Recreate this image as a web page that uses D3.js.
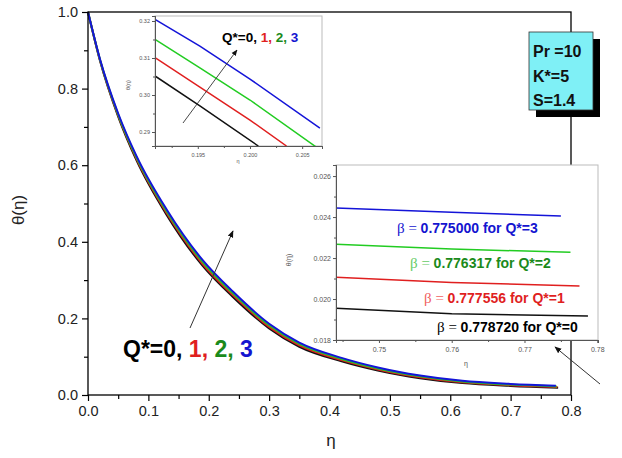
<!DOCTYPE html>
<html>
<head>
<meta charset="utf-8">
<script src="https://cdn.jsdelivr.net/npm/d3@7"></script>
<style>
  body { margin: 0; background: #fff; }
  text { font-family: Arial, "Liberation Sans", sans-serif; }
</style>
</head>
<body>
<div id="chart"></div>
<script>
// temperature profiles theta(eta) for Q* = 0..3, each curve ends at its beta
const qValues = [0, 1, 2, 3];
const betaValues = [0.778720, 0.777556, 0.776317, 0.775000];
const etaGrid = [0, 0.02, 0.05, 0.08, 0.13, 0.19, 0.24, 0.30, 0.35, 0.42, 0.48, 0.55, 0.62, 0.70];
const thetaQ0 = [1.0, 0.872, 0.727, 0.614, 0.471, 0.337, 0.256, 0.174, 0.126, 0.088, 0.064, 0.044, 0.031, 0.0238, 0.0192];
const thetaQ1 = [1.0, 0.8733, 0.7297, 0.6177, 0.4757, 0.342, 0.2607, 0.178, 0.1297, 0.091, 0.0667, 0.0463, 0.033, 0.0255, 0.0206];
const thetaQ2 = [1.0, 0.8747, 0.7323, 0.6213, 0.4803, 0.347, 0.2653, 0.182, 0.1333, 0.094, 0.0693, 0.0487, 0.035, 0.0272, 0.0223];
const thetaQ3 = [1.0, 0.876, 0.735, 0.625, 0.485, 0.352, 0.27, 0.186, 0.137, 0.097, 0.072, 0.051, 0.037, 0.029, 0.0241];

// zoom near eta = 0.2
const zoomAEta = [
  [0.1909, 0.1952, 0.2008],
  [0.1909, 0.1952, 0.2000, 0.2035],
  [0.1909, 0.1952, 0.2000, 0.2063],
  [0.1909, 0.1952, 0.2000, 0.2067]
];
const zoomATheta = [
  [0.30514, 0.29703, 0.28622],
  [0.31008, 0.30216, 0.29324, 0.28622],
  [0.31505, 0.30730, 0.29865, 0.28603],
  [0.32046, 0.31324, 0.30432, 0.29108]
];
const zoomAYTicks = [0.29, 0.30, 0.31, 0.32];
const zoomAXTicks = [0.195, 0.200, 0.205];

// zoom near the edge of the boundary layer
const zoomBEtaStart = [0.7441, 0.760];
const zoomBTheta = [
  [0.01955, 0.01928, 0.01917],
  [0.02106, 0.02081, 0.02063],
  [0.02267, 0.02244, 0.02228],
  [0.02444, 0.02423, 0.02405]
];
const zoomBYTicks = [0.018, 0.020, 0.022, 0.024, 0.026];
const zoomBXTicks = [0.75, 0.76, 0.77, 0.78];

const params = ["Pr =10", "K*=5", "S=1.4"];

const lineColors = ["#111111", "#e01f1f", "#22cc22", "#1414d8"];
const textColors = ["#000000", "#e01f1f", "#1b8a1b", "#1414d0"];
const betaSymColors = ["#000000", "#f06060", "#66cc66", "#1414d0"];

const svg = d3.select("#chart").append("svg")
  .attr("width", 622)
  .attr("height", 458);

const x = d3.scaleLinear().domain([0, 0.8]).range([88, 571]);
const y = d3.scaleLinear().domain([0, 1]).range([395, 12]);

const mainSeries = [thetaQ0, thetaQ1, thetaQ2, thetaQ3].map((vals, i) =>
  vals.map((v, j) => ({ eta: j < etaGrid.length ? etaGrid[j] : betaValues[i], theta: v }))
);

const line = d3.line().curve(d3.curveMonotoneX).x(d => x(d.eta)).y(d => y(d.theta));

mainSeries.forEach((s, i) => {
  svg.append("path").datum(s)
    .attr("d", line)
    .attr("fill", "none")
    .attr("stroke", lineColors[i])
    .attr("stroke-width", 2);
});

// axes: major + minor ticks, frame
function styleAxis(sel, size) {
  sel.selectAll(".domain").remove();
  sel.selectAll(".tick line").attr("stroke", "#000").attr("stroke-width", 1.2);
  sel.selectAll(".tick text").attr("font-size", size).attr("fill", "#222");
}

svg.append("g").attr("transform", "translate(0,395)")
  .call(d3.axisBottom(x).tickValues(d3.range(0, 0.81, 0.1)).tickSize(6).tickPadding(5).tickFormat(d3.format(".1f")))
  .call(g => styleAxis(g, 14.5));
svg.append("g").attr("transform", "translate(0,395)")
  .call(d3.axisBottom(x).tickValues(d3.range(0.05, 0.8, 0.1)).tickSize(4).tickFormat(""))
  .call(g => styleAxis(g, 14.5));
svg.append("g").attr("transform", "translate(88,0)")
  .call(d3.axisLeft(y).tickValues(d3.range(0, 1.01, 0.2)).tickSize(6).tickPadding(4).tickFormat(d3.format(".1f")))
  .call(g => styleAxis(g, 14.5));
svg.append("g").attr("transform", "translate(88,0)")
  .call(d3.axisLeft(y).tickValues(d3.range(0.1, 1, 0.2)).tickSize(4).tickFormat(""))
  .call(g => styleAxis(g, 14.5));

svg.append("rect")
  .attr("x", 88).attr("y", 12).attr("width", 571 - 88).attr("height", 395 - 12)
  .attr("fill", "none").attr("stroke", "#000").attr("stroke-width", 1.3);

svg.append("text")
  .attr("transform", "translate(24,210) rotate(-90)")
  .attr("text-anchor", "middle")
  .attr("font-size", 17)
  .attr("fill", "#222")
  .text("θ(η)");

svg.append("text")
  .attr("x", 331).attr("y", 446)
  .attr("text-anchor", "middle")
  .attr("font-size", 17)
  .attr("fill", "#222")
  .text("η");

// arrow markers
const defs = svg.append("defs");
defs.append("marker")
  .attr("id", "arrowhead")
  .attr("viewBox", "0 0 10 10")
  .attr("refX", 9).attr("refY", 5)
  .attr("markerWidth", 7).attr("markerHeight", 7)
  .attr("orient", "auto")
  .append("path").attr("d", "M0,1 L10,5 L0,9 Z").attr("fill", "#111");

svg.append("line")
  .attr("x1", 190).attr("y1", 328).attr("x2", 233).attr("y2", 231)
  .attr("stroke", "#333").attr("stroke-width", 1)
  .attr("marker-end", "url(#arrowhead)");

// Q* label with coloured numbers
function qLabel(parent, px, py, size) {
  const t = parent.append("text")
    .attr("x", px).attr("y", py)
    .attr("font-size", size).attr("font-weight", "bold");
  t.append("tspan").attr("fill", textColors[0]).text("Q*=0, ");
  t.append("tspan").attr("fill", textColors[1]).text("1, ");
  t.append("tspan").attr("fill", textColors[2]).text("2, ");
  t.append("tspan").attr("fill", textColors[3]).text("3");
}
qLabel(svg, 123, 357, 23);

// parameter box with drop shadow
svg.append("rect").attr("x", 536).attr("y", 39).attr("width", 64).attr("height", 78).attr("fill", "#000");
svg.append("rect").attr("x", 529).attr("y", 32).attr("width", 64).attr("height", 78)
  .attr("fill", "#7ff0f6").attr("stroke", "#333").attr("stroke-width", 0.8);
params.forEach((p, i) => {
  svg.append("text")
    .attr("x", 533).attr("y", 57 + i * 24.5)
    .attr("font-size", 16).attr("font-weight", "bold").attr("fill", "#111")
    .text(p);
});

// generic inset builder
function inset(opts) {
  const ix = d3.scaleLinear().domain(opts.xDomain).range([opts.left, opts.right]);
  const iy = d3.scaleLinear().domain(opts.yDomain).range([opts.bottom, opts.top]);
  const g = svg.append("g");
  g.append("rect")
    .attr("x", opts.left).attr("y", opts.top)
    .attr("width", opts.right - opts.left).attr("height", opts.bottom - opts.top)
    .attr("fill", "#fff").attr("stroke", "#bbb").attr("stroke-width", 1);

  g.append("clipPath").attr("id", opts.id)
    .append("rect")
    .attr("x", opts.left).attr("y", opts.top)
    .attr("width", opts.right - opts.left).attr("height", opts.bottom - opts.top);

  const il = d3.line().x(d => ix(d[0])).y(d => iy(d[1]));
  const plot = g.append("g").attr("clip-path", `url(#${opts.id})`);
  opts.series.forEach((s, i) => {
    plot.append("path").datum(s)
      .attr("d", il)
      .attr("fill", "none")
      .attr("stroke", lineColors[i])
      .attr("stroke-width", 1.5);
  });

  const fmtX = d3.format(opts.xFmt), fmtY = d3.format(opts.yFmt);
  const ax = g.append("g").attr("transform", `translate(0,${opts.bottom})`)
    .call(d3.axisBottom(ix).tickValues(opts.xTicks).tickSize(3).tickPadding(4).tickFormat(fmtX));
  const axm = g.append("g").attr("transform", `translate(0,${opts.bottom})`)
    .call(d3.axisBottom(ix).tickValues(opts.xMinor).tickSize(2).tickFormat(""));
  const ay = g.append("g").attr("transform", `translate(${opts.left},0)`)
    .call(d3.axisLeft(iy).tickValues(opts.yTicks).tickSize(3).tickPadding(2).tickFormat(fmtY));
  const aym = g.append("g").attr("transform", `translate(${opts.left},0)`)
    .call(d3.axisLeft(iy).tickValues(opts.yMinor).tickSize(2).tickFormat(""));
  [ax, axm, ay, aym].forEach(a => {
    a.select(".domain").attr("stroke", "#555").attr("stroke-width", 1);
    a.selectAll(".tick line").attr("stroke", "#555");
    a.selectAll(".tick text").attr("font-size", opts.fontSize).attr("fill", "#555");
  });

  g.append("text")
    .attr("transform", `translate(${opts.yLabel[0]},${opts.yLabel[1]}) rotate(-90)`)
    .attr("text-anchor", "middle").attr("font-size", opts.fontSize).attr("fill", "#555")
    .text("θ(η)");
  g.append("text")
    .attr("x", opts.xLabel[0]).attr("y", opts.xLabel[1])
    .attr("text-anchor", "middle").attr("font-size", opts.fontSize).attr("fill", "#555")
    .text("η");
  return { g, ix, iy };
}

const insetA = inset({
  id: "clipA",
  left: 155, right: 322, top: 16, bottom: 146,
  xDomain: [0.1909, 0.2069], yDomain: [0.28622, 0.32135],
  series: zoomAEta.map((e, i) => e.map((v, j) => [v, zoomATheta[i][j]])),
  xTicks: zoomAXTicks, xMinor: [0.1925, 0.1975, 0.2025],
  yTicks: zoomAYTicks, yMinor: [0.295, 0.305, 0.315],
  xFmt: ".3f", yFmt: ".2f",
  fontSize: 5.5,
  yLabel: [130, 85], xLabel: [238, 163]
});

insetA.g.append("line")
  .attr("x1", 183).attr("y1", 123).attr("x2", 237).attr("y2", 50)
  .attr("stroke", "#333").attr("stroke-width", 0.9)
  .attr("marker-end", "url(#arrowhead)");
qLabel(insetA.g, 222, 42, 13.5);

const insetB = inset({
  id: "clipB",
  left: 336, right: 598, top: 165, bottom: 340,
  xDomain: [0.7441, 0.7801], yDomain: [0.018, 0.02654],
  series: zoomBTheta.map((t, i) => [...zoomBEtaStart, betaValues[i]].map((v, j) => [v, t[j]])),
  xTicks: zoomBXTicks, xMinor: [0.745, 0.755, 0.765, 0.775],
  yTicks: zoomBYTicks, yMinor: [0.019, 0.021, 0.023, 0.025],
  xFmt: ".2f", yFmt: ".3f",
  fontSize: 7,
  yLabel: [291, 260], xLabel: [466, 366]
});

// beta labels
const betaLabelPos = [[437, 332], [424, 303], [410, 268], [397, 233]];
betaValues.forEach((b, i) => {
  const t = insetB.g.append("text")
    .attr("x", betaLabelPos[i][0]).attr("y", betaLabelPos[i][1])
    .attr("font-size", 14);
  t.append("tspan").attr("fill", betaSymColors[i]).attr("font-family", "'Liberation Serif', serif").attr("font-size", 15).text("β = ");
  t.append("tspan").attr("fill", textColors[i]).attr("font-weight", "bold")
    .text(`${d3.format(".6f")(b)} for Q*=${qValues[i]}`);
});

svg.append("line")
  .attr("x1", 600).attr("y1", 384).attr("x2", 555).attr("y2", 347)
  .attr("stroke", "#333").attr("stroke-width", 1)
  .attr("marker-end", "url(#arrowhead)");
</script>
</body>
</html>
